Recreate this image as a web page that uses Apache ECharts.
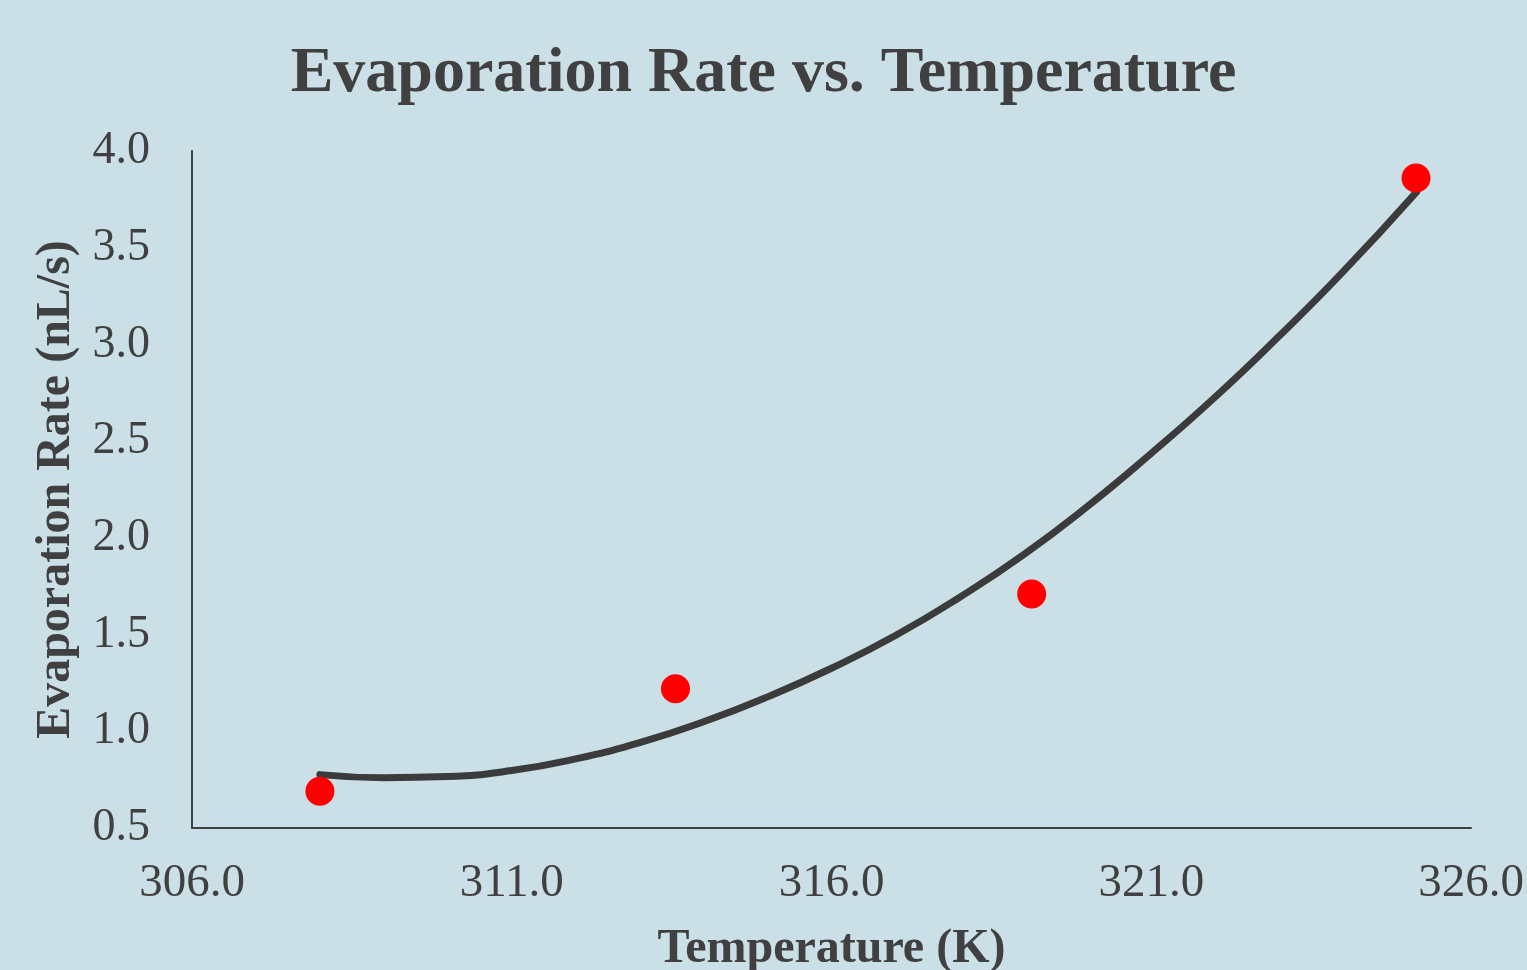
<!DOCTYPE html>
<html>
<head>
<meta charset="utf-8">
<script src="https://cdn.jsdelivr.net/npm/echarts@6/dist/echarts.min.js"></script>
<style>
html,body{margin:0;padding:0;background:#cadfe6;}
#chart{width:1527px;height:970px;}
</style>
</head>
<body>
<div id="chart"></div>
<script>
// Measured data points
const temperature = [308.0, 313.56, 319.13, 325.14];
const evapRate = [0.69, 1.22, 1.71, 3.86];
// Trendline
const trendX = [308.0, 309.0, 310.0, 311.0, 312.0, 313.0, 314.0, 315.0, 316.0, 317.0, 318.0, 319.0, 320.0, 321.0, 322.0, 323.0, 324.0, 325.15];
const trendY = [0.776, 0.760, 0.766, 0.797, 0.857, 0.941, 1.049, 1.178, 1.326, 1.495, 1.692, 1.912, 2.162, 2.437, 2.728, 3.043, 3.376, 3.789];
// Tick labels
const xTicks = [306, 311, 316, 321, 326];
const yTicks = [0.5, 1.0, 1.5, 2.0, 2.5, 3.0, 3.5, 4.0];

const pts = temperature.map((t, i) => [t, evapRate[i]]);
const trend = trendX.map((t, i) => [t, trendY[i]]);

const font = '"Liberation Serif", "Times New Roman", serif';
const dark = '#404040';

const chart = echarts.init(document.getElementById('chart'));
chart.setOption({
  backgroundColor: '#cadfe6',
  animation: false,
  title: {
    text: 'Evaporation Rate vs. Temperature',
    left: 'center',
    top: 37,
    textStyle: { fontFamily: font, fontSize: 64, fontWeight: 'bold', color: dark }
  },
  grid: { left: 192, right: 56, top: 151, bottom: 142, containLabel: false, outerBoundsMode: 'none' },
  xAxis: {
    type: 'value',
    min: xTicks[0],
    max: xTicks[xTicks.length - 1],
    name: 'Temperature (K)',
    nameLocation: 'middle',
    nameGap: 98,
    nameTextStyle: { fontFamily: font, fontSize: 48, fontWeight: 'bold', color: dark },
    axisLine: { show: true, lineStyle: { color: dark, width: 2 } },
    axisTick: { show: false },
    splitLine: { show: false },
    axisLabel: {
      customValues: xTicks,
      formatter: v => v.toFixed(1),
      fontFamily: font, fontSize: 47, color: dark, margin: 32
    }
  },
  yAxis: {
    type: 'value',
    min: yTicks[0],
    max: yTicks[yTicks.length - 1],
    interval: 0.5,
    name: 'Evaporation Rate (nL/s)',
    nameLocation: 'middle',
    nameGap: 111,
    nameTextStyle: { fontFamily: font, fontSize: 48, fontWeight: 'bold', color: dark },
    axisLine: { show: true, lineStyle: { color: dark, width: 2 } },
    axisTick: { show: false },
    splitLine: { show: false },
    axisLabel: {
      formatter: v => v.toFixed(1),
      fontFamily: font, fontSize: 46, color: dark, margin: 42
    }
  },
  series: [
    {
      type: 'line',
      data: trend,
      smooth: 0.5,
      showSymbol: false,
      lineStyle: { color: '#3b3b3b', width: 7, cap: 'round' },
      z: 2
    },
    {
      type: 'scatter',
      data: pts,
      symbolSize: 29,
      itemStyle: { color: '#ff0000', opacity: 1 },
      z: 3
    }
  ]
});
</script>
</body>
</html>
